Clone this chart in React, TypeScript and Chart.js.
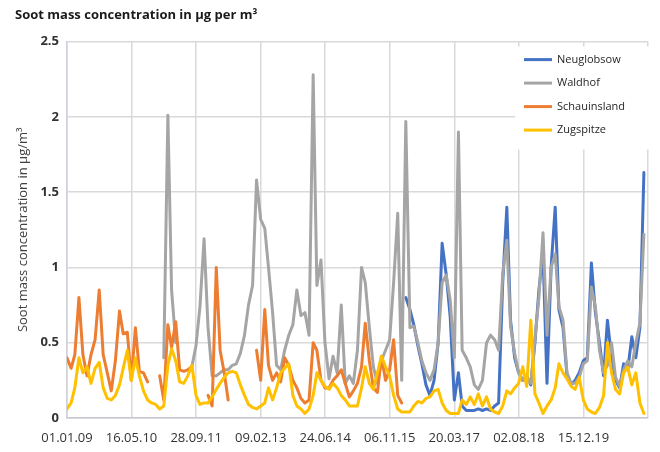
import React, { useEffect, useRef } from 'react';
import { Chart, registerables } from 'chart.js';

Chart.register(...registerables);

// ---------- data (monthly values, first month = Jan 2009) ----------
const seriesNames = ['Neuglobsow', 'Waldhof', 'Schauinsland', 'Zugspitze'];
const seriesColors = ['#4472C4', '#A5A5A5', '#ED7D31', '#FFC000'];

const xTickLabels = ['01.01.09', '16.05.10', '28.09.11', '09.02.13', '24.06.14', '06.11.15', '20.03.17', '02.08.18', '15.12.19'];
const xTickStepDays = 500;
const xMaxDays = 4383;
const yTickLabels = ['0', '0.5', '1', '1.5', '2', '2.5'];

const neuglobsowStart = 84;
const neuglobsow: (number | null)[] = [
  0.80, 0.72, 0.62, 0.48, 0.36, 0.22, 0.15, 0.25, 0.50, 1.16,
  0.95, 0.67, 0.12, 0.30, 0.08, 0.05, 0.05, 0.05, 0.06, 0.05,
  0.06, 0.05, 0.08, 0.10, 0.90, 1.40, 0.65, 0.40, 0.30, 0.25,
  0.28, 0.22, 0.50, 0.85, 1.10, 0.23, 1.00, 1.40, 0.72, 0.60,
  0.28, 0.22, 0.25, 0.30, 0.38, 0.40, 1.03, 0.70, 0.50, 0.28,
  0.65, 0.40, 0.25, 0.20, 0.36, 0.32, 0.54, 0.40, 0.60, 1.63,
];

const waldhofStart = 24;
const waldhof: (number | null)[] = [
  0.40, 2.01, 0.85, 0.50, null, null, null, 0.34, 0.48, 0.74,
  1.19, 0.60, 0.28, 0.28, 0.30, 0.32, 0.32, 0.35, 0.36, 0.43,
  0.55, 0.75, 0.88, 1.58, 1.32, 1.26, 1.00, 0.70, 0.35, 0.32,
  0.45, 0.55, 0.62, 0.85, 0.68, 0.70, 0.55, 2.28, 0.88, 1.05,
  0.50, 0.26, 0.41, 0.30, 0.75, 0.23, 0.28, 0.23, 0.45, 1.00,
  0.90, 0.60, 0.34, 0.23, 0.38, 0.45, 0.52, 0.90, 1.36, 0.25,
  1.97, 0.60, 0.61, 0.50, 0.38, 0.30, 0.25, 0.32, 0.50, 0.90,
  0.95, 0.78, 0.40, 1.90, 0.45, 0.40, 0.34, 0.22, 0.19, 0.25,
  0.50, 0.55, 0.52, 0.45, 0.96, 1.18, 0.61, 0.43, 0.30, 0.25,
  0.27, 0.23, 0.52, 0.80, 1.23, 0.55, 1.00, 1.09, 0.74, 0.65,
  0.30, 0.23, 0.23, 0.27, 0.36, 0.38, 0.87, 0.74, 0.45, 0.30,
  0.35, 0.50, 0.27, 0.21, 0.32, 0.38, 0.34, 0.50, 0.63, 1.22,
];

const schauinslandStart = 0;
const schauinsland: (number | null)[] = [
  0.40, 0.33, 0.42, 0.80, 0.42, 0.28, 0.42, 0.52, 0.85, 0.42,
  0.30, 0.18, 0.38, 0.71, 0.56, 0.57, 0.25, 0.60, 0.31, 0.30,
  0.24, null, null, 0.28, 0.12, 0.62, 0.47, 0.64, 0.32, 0.31,
  0.32, 0.34, null, null, null, 0.15, 0.08, 1.00, 0.45, 0.30,
  0.12, null, null, null, null, null, null, 0.45, 0.25, 0.72,
  0.35, 0.25, 0.30, 0.24, 0.40, 0.35, 0.25, 0.20, 0.13, 0.10,
  0.12, 0.50, 0.45, 0.25, 0.20, 0.20, 0.25, 0.28, 0.32, 0.23,
  0.14, 0.18, 0.23, 0.34, 0.63, 0.38, 0.20, 0.17, 0.41, 0.25,
  0.32, 0.52, 0.15, 0.10,
];

const zugspitzeStart = 0;
const zugspitze: (number | null)[] = [
  0.06, 0.10, 0.20, 0.40, 0.30, 0.34, 0.23, 0.33, 0.37, 0.20,
  0.13, 0.12, 0.15, 0.22, 0.33, 0.45, 0.25, 0.40, 0.28, 0.18,
  0.12, 0.10, 0.09, 0.06, 0.08, 0.35, 0.46, 0.38, 0.24, 0.23,
  0.28, 0.35, 0.15, 0.09, 0.10, 0.10, 0.14, 0.19, 0.23, 0.27,
  0.30, 0.31, 0.30, 0.22, 0.15, 0.09, 0.07, 0.06, 0.08, 0.10,
  0.20, 0.12, 0.20, 0.30, 0.33, 0.36, 0.15, 0.08, 0.06, 0.03,
  0.06, 0.15, 0.30, 0.25, 0.21, 0.19, 0.23, 0.20, 0.15, 0.12,
  0.08, 0.08, 0.08, 0.20, 0.34, 0.23, 0.19, 0.30, 0.41, 0.34,
  0.28, 0.15, 0.06, 0.04, 0.04, 0.04, 0.08, 0.11, 0.10, 0.13,
  0.14, 0.18, 0.19, 0.10, 0.05, 0.03, 0.03, 0.03, 0.12, 0.09,
  0.14, 0.09, 0.16, 0.08, 0.14, 0.06, 0.04, 0.03, 0.08, 0.18,
  0.16, 0.20, 0.23, 0.34, 0.21, 0.65, 0.16, 0.10, 0.03, 0.08,
  0.12, 0.20, 0.36, 0.30, 0.26, 0.21, 0.19, 0.27, 0.12, 0.06,
  0.04, 0.03, 0.07, 0.15, 0.50, 0.30, 0.19, 0.16, 0.30, 0.34,
  0.22, 0.30, 0.10, 0.03,
];

// ---------- helpers ----------
const DAY_MS = 86400000;
const ORIGIN = Date.UTC(2009, 0, 1);
const monthToDays = (monthIndex: number) => (Date.UTC(2009, monthIndex, 1) - ORIGIN) / DAY_MS;
const toPoints = (start: number, values: (number | null)[]) =>
  values.map((v, i) => ({ x: monthToDays(start + i), y: v }));

const FONT = "'Open Sans', 'DejaVu Sans', sans-serif";

const insideLegend = {
  id: 'insideLegend',
  afterDatasetsDraw(chart: any) {
    const { ctx, chartArea } = chart;
    const boxLeft = chartArea.right - 133;
    const boxTop = chartArea.top + 5;
    ctx.save();
    ctx.fillStyle = '#ffffff';
    ctx.fillRect(boxLeft, boxTop, 140, 103);
    ctx.font = `11px ${FONT}`;
    ctx.textBaseline = 'middle';
    ctx.textAlign = 'left';
    seriesNames.forEach((name, i) => {
      const y = boxTop + 13 + i * 23.5;
      ctx.strokeStyle = seriesColors[i];
      ctx.lineWidth = 3;
      ctx.beginPath();
      ctx.moveTo(boxLeft + 9, y);
      ctx.lineTo(boxLeft + 37, y);
      ctx.stroke();
      ctx.fillStyle = '#262626';
      ctx.fillText(name, boxLeft + 42, y);
    });
    ctx.restore();
  },
};

export default function App() {
  const canvasRef = useRef<HTMLCanvasElement | null>(null);

  useEffect(() => {
    if (!canvasRef.current) return;
    const seriesData = [
      toPoints(neuglobsowStart, neuglobsow),
      toPoints(waldhofStart, waldhof),
      toPoints(schauinslandStart, schauinsland),
      toPoints(zugspitzeStart, zugspitze),
    ];
    // later series drawn on top: Chart.js draws the first dataset on top, so reverse
    const datasets = seriesNames
      .map((name, i) => ({
        label: name,
        data: seriesData[i],
        borderColor: seriesColors[i],
        backgroundColor: seriesColors[i],
        borderWidth: 3,
        pointRadius: 0,
        tension: 0,
        spanGaps: false,
        borderJoinStyle: 'round' as const,
        borderCapStyle: 'round' as const,
      }))
      .reverse();

    const chart = new Chart(canvasRef.current, {
      type: 'line',
      data: { datasets },
      plugins: [insideLegend],
      options: {
        animation: false,
        responsive: false,
        devicePixelRatio: 1,
        layout: { padding: { left: 15, right: 9, top: 0, bottom: 0 } },
        plugins: {
          legend: { display: false },
          tooltip: { enabled: false },
          title: {
            display: true,
            text: 'Soot mass concentration in µg per m³',
            align: 'start',
            color: '#1a1a1a',
            font: { family: FONT, size: 13, weight: 'bold' },
            padding: { top: 7, bottom: 19 },
          },
        },
        scales: {
          x: {
            type: 'linear',
            min: 0,
            max: xMaxDays,
            afterFit: (scale: any) => { scale.height = 34; },
            ticks: {
              stepSize: xTickStepDays,
              includeBounds: false,
              autoSkip: false,
              maxRotation: 0,
              padding: 12,
              color: '#333333',
              font: { family: FONT, size: 13 },
              callback: (value: any) => {
                const idx = Math.round(Number(value) / xTickStepDays);
                return xTickLabels[idx] ?? '';
              },
            },
            grid: { color: '#d9d9d9', lineWidth: 1.5, drawTicks: false },
            border: { color: '#c8c8d2', width: 1.5 },
          },
          y: {
            min: 0,
            max: 2.5,
            afterFit: (scale: any) => { scale.width = 52; },
            ticks: {
              stepSize: 0.5,
              padding: 8,
              color: '#333333',
              font: { family: FONT, size: 13, weight: 'bold' },
              callback: (value: any) => yTickLabels[Math.round(Number(value) / 0.5)] ?? '',
            },
            grid: { color: '#d9d9d9', lineWidth: 1.5, drawTicks: false },
            border: { color: '#d0d0d8', width: 1.5 },
            title: {
              display: true,
              text: 'Soot mass concentration in µg/m³',
              color: '#404040',
              font: { family: FONT, size: 13 },
              padding: { top: 0, bottom: 0 },
            },
          },
        },
      },
    });
    return () => chart.destroy();
  }, []);

  return (
    <div style={{ position: 'absolute', left: 0, top: 0, width: 660, height: 452, background: '#fff' }}>
      <canvas ref={canvasRef} width={660} height={452} />
    </div>
  );
}
